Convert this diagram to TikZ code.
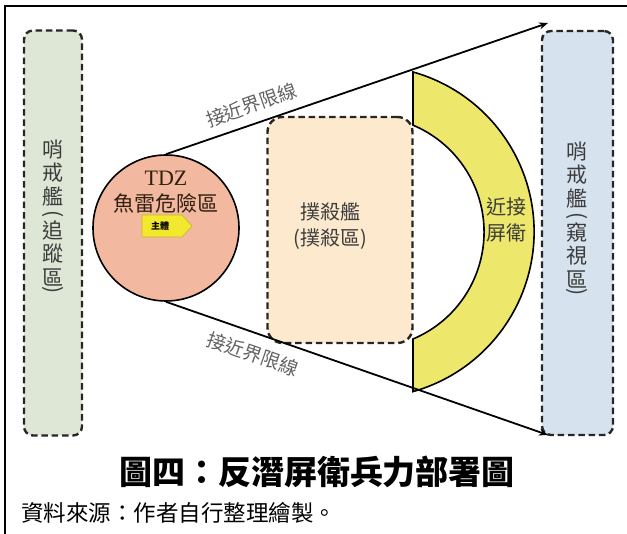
\documentclass[tikz,border=0pt]{standalone}
\usepackage{fontspec}
\setmainfont{Liberation Serif}
\newfontfamily\cjk{Noto Sans CJK TC}
\usetikzlibrary{arrows.meta}
\definecolor{greenfill}{RGB}{222,230,214}
\definecolor{bluefill}{RGB}{214,226,238}
\definecolor{orangefill}{RGB}{253,234,206}
\definecolor{circfill}{RGB}{243,185,160}
\definecolor{bandfill}{RGB}{237,231,108}
\definecolor{tagfill}{RGB}{242,232,46}
\definecolor{labelgray}{RGB}{60,60,60}
\newcommand{\vparen}[1]{\rotatebox[origin=c]{-90}{#1}}
\begin{document}
\begin{tikzpicture}[x=1pt,y=1pt,
  zonebox/.style={draw=black!85, line width=2.4pt, dash pattern=on 6.5pt off 3.8pt, rounded corners=9pt, inner sep=0pt},
  vlabel/.style={align=center, text=labelgray, font=\cjk\fontsize{21}{23.5}\selectfont, inner sep=0pt},
  zlabel/.style={align=center, text=labelgray, font=\cjk\fontsize{20}{26}\selectfont, inner sep=0pt},
  boundary/.style={line width=1.8pt, -{Stealth[length=9pt,width=7pt]}},
  linelabel/.style={sloped, text=labelgray!80, font=\cjk\fontsize{19}{22}\selectfont, inner sep=0pt}
]
\useasboundingbox (0,0) rectangle (627,-534);
% frame
\draw[line width=1.6pt] (5,-534) -- (5,-6) -- (627,-6);
% side boxes
\node[zonebox, fill=greenfill, minimum width=58pt, minimum height=405pt] (track) at (53,-233) {};
\node[zonebox, fill=bluefill, minimum width=71pt, minimum height=404pt] (watch) at (577.5,-233) {};
\node[vlabel] (tracktext) at (53,-218) {哨\\戒\\艦\\[-7.5pt]\vparen{(}\\[-5.5pt]追\\蹤\\區\\[-12.5pt]\vparen{)}};
\node[vlabel] (watchtext) at (577,-220) {哨\\戒\\艦\\[-7.5pt]\vparen{(}\\[-5.5pt]窺\\視\\區\\[-12.5pt]\vparen{)}};
% kill box
\node[zonebox, fill=orangefill, minimum width=145pt, minimum height=226pt, rounded corners=15pt] (kill) at (340,-230) {};
\node[zlabel] (killtext) at (330,-226) {撲殺艦\\(撲殺區)};
% screen band
\path[fill=bandfill, draw=black, line width=1.6pt]
  (413,-72) arc[start angle=74.3, end angle=-74.3, radius=166] -- (413,-339)
  arc[start angle=-67.2, end angle=67.2, radius=116] -- cycle;
\node[zlabel] (screentext) at (506,-220) {近接\\屏衛};
% TDZ circle
\node[circle, draw=black, line width=1.6pt, fill=circfill, minimum size=146pt, inner sep=0pt] (tdz) at (166,-228) {};
\node[text=black!75!brown, font=\fontsize{22}{24}\selectfont, inner sep=0pt] (tdzname) at (166,-178) {TDZ};
\node[text=black!75!brown, font=\cjk\fontsize{21}{24}\selectfont, inner sep=0pt] (tdztext) at (166,-203) {魚雷危險區};
\path[fill=tagfill, draw=tagfill!80!black, line width=0.6pt] (142,-215) -- (182,-215) -- (192,-226) -- (182,-237) -- (142,-237) -- cycle;
\node[font=\cjk\bfseries\fontsize{9}{10}\selectfont, inner sep=0pt] (main) at (160,-226) {主體};
% boundary lines
\coordinate (toptip) at (548,-23);
\coordinate (bottip) at (548,-435);
\draw[boundary] (tdz.north) -- node[linelabel, pos=0.24, above=9pt] (toplabel) {接近界限線} (toptip);
\draw[boundary] (tdz.south) -- node[linelabel, pos=0.245, below=11pt] (botlabel) {接近界限線} (bottip);
% title and source
\node[font=\cjk\bfseries\fontsize{33}{36}\selectfont, inner sep=0pt] (title) at (317,-472) {圖四：反潛屏衛兵力部署圖};
\node[anchor=west, font=\cjk\fontsize{22.5}{25}\selectfont, inner sep=0pt] (source) at (21,-513) {資料來源：作者自行整理繪製。};
\end{tikzpicture}
\end{document}
